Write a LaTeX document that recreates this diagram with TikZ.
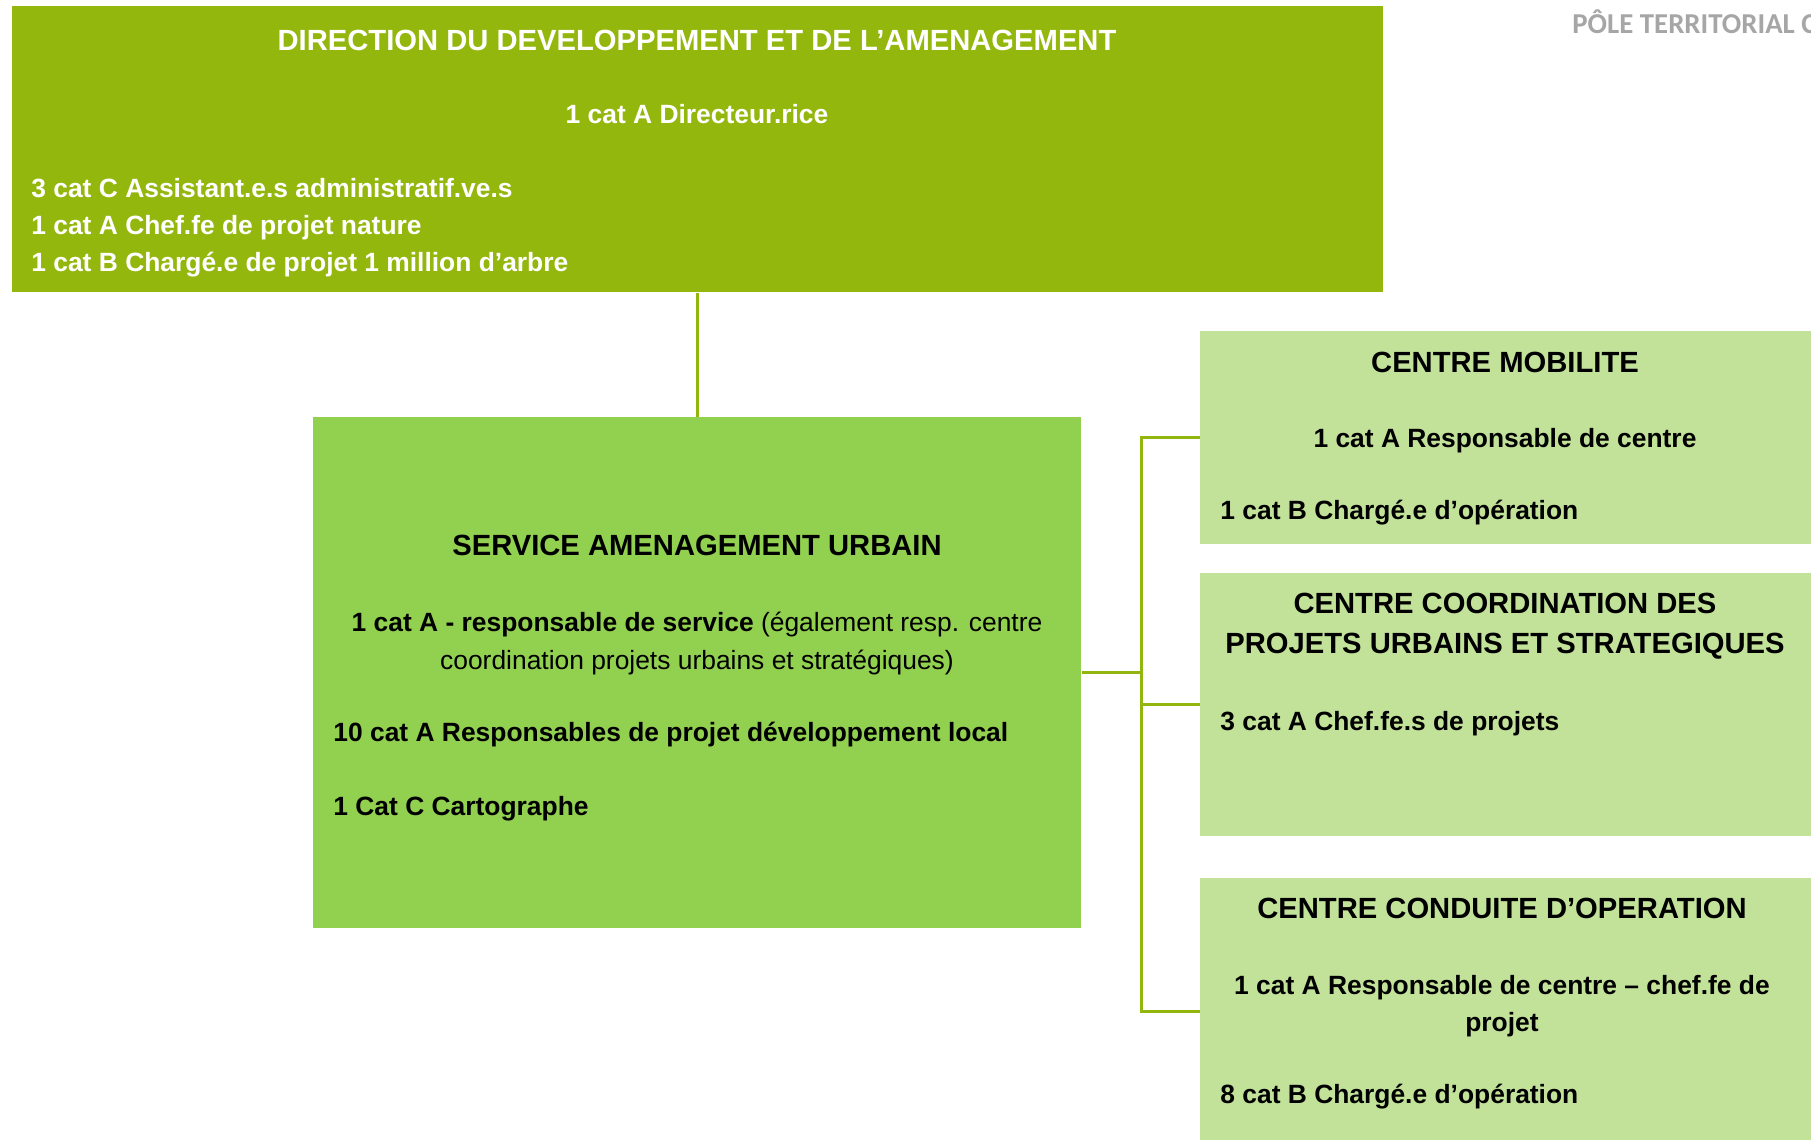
\documentclass[tikz,border=0pt]{standalone}
\usepackage{fontspec}
\setmainfont{Liberation Sans}
\newfontfamily\calibri{Carlito}
\definecolor{vertolive}{RGB}{148,183,14}
\definecolor{vertmoyen}{RGB}{146,208,80}
\definecolor{vertclair}{RGB}{194,226,154}
\definecolor{trait}{RGB}{146,182,14}
\definecolor{grisentete}{RGB}{166,166,166}
\begin{document}
\begin{tikzpicture}[
    % Unités : 1 unité = 1 pixel de l'image
    x=0.5pt, y=-0.5pt,
    % Style des boîtes : rectangle plein, sans bordure
    boite/.style={inner sep=0pt, anchor=north west},
    % Traits de liaison
    lien/.style={draw=trait, line width=1.5pt},
    % Textes
    titre/.style={font=\fontsize{14.6}{17}\selectfont\bfseries, inner sep=0pt, anchor=base},
    centre/.style={font=\fontsize{13.2}{16}\selectfont\bfseries, inner sep=0pt, anchor=base},
    ligne/.style={font=\fontsize{13.2}{16}\selectfont\bfseries, inner sep=0pt, anchor=base west}
]

    \useasboundingbox (0,0) rectangle (1811,1140);
    \clip (0,0) rectangle (1811,1140);
    \fill[white] (0,0) rectangle (1811,1140);

    % En-tête de page
    \node[inner sep=0pt, anchor=base west, text=grisentete, font=\calibri\fontsize{14.4}{17}\selectfont\bfseries]
        (pole) at (1572,33) {PÔLE TERRITORIAL C};

    % Direction
    \node[boite, fill=vertolive, minimum width=685.5pt, minimum height=143pt] (direction) at (12,6) {};
    \node[titre, text=white] (dir-titre) at (697,50) {DIRECTION DU DEVELOPPEMENT ET DE L’AMENAGEMENT};
    \node[centre, text=white] (dir-chef) at (697,123) {1 cat A Directeur.rice};
    \node[ligne, text=white] (dir-l1) at (31,197) {3 cat C Assistant.e.s administratif.ve.s};
    \node[ligne, text=white] (dir-l2) at (31,234) {1 cat A Chef.fe de projet nature};
    \node[ligne, text=white] (dir-l3) at (31,271) {1 cat B Chargé.e de projet 1 million d’arbre};

    % Service
    \node[boite, fill=vertmoyen, minimum width=384pt, minimum height=255.5pt] (service) at (313,417) {};
    \node[titre] (srv-titre) at (697,555) {SERVICE AMENAGEMENT URBAIN};
    \node[centre] (srv-chef) at (697,631) {1 cat A - responsable de service \mdseries(également resp. centre};
    \node[centre, font=\fontsize{13.2}{16}\selectfont] (srv-chef2) at (697,669) {coordination projets urbains et stratégiques)};
    \node[ligne] (srv-l1) at (333,741) {10 cat A Responsables de projet développement local};
    \node[ligne] (srv-l2) at (333,815) {1 Cat C Cartographe};

    % Centres
    \node[boite, fill=vertclair, minimum width=315pt, minimum height=106.5pt] (mobilite) at (1200,331) {};
    \node[titre] (mob-titre) at (1505,372) {CENTRE MOBILITE};
    \node[centre] (mob-chef) at (1505,447) {1 cat A Responsable de centre};
    \node[ligne] (mob-l1) at (1220,519) {1 cat B Chargé.e d’opération};

    \node[boite, fill=vertclair, minimum width=315pt, minimum height=131.5pt] (coordination) at (1200,573) {};
    \node[titre] (coo-titre) at (1505,613) {CENTRE COORDINATION DES};
    \node[titre] (coo-titre2) at (1505,653) {PROJETS URBAINS ET STRATEGIQUES};
    \node[ligne] (coo-l1) at (1220,730) {3 cat A Chef.fe.s de projets};

    \node[boite, fill=vertclair, minimum width=315pt, minimum height=133pt] (conduite) at (1200,878) {};
    \node[titre] (con-titre) at (1502,918) {CENTRE CONDUITE D’OPERATION};
    \node[centre] (con-chef) at (1502,994) {1 cat A Responsable de centre – chef.fe de};
    \node[centre] (con-chef2) at (1502,1031) {projet};
    \node[ligne] (con-l1) at (1220,1103) {8 cat B Chargé.e d’opération};

    % Liaisons
    \draw[lien] (direction.south) -- ++(0,66) -| (service.north);
    \coordinate (busx) at (1141,0);
    \coordinate (bus) at (service.east -| busx);
    \draw[lien] (service.east) -- (bus);
    \draw[lien] (bus) |- (mobilite.west);
    \draw[lien] (bus) |- (coordination.west);
    \draw[lien] (bus) |- (conduite.west);

\end{tikzpicture}
\end{document}
